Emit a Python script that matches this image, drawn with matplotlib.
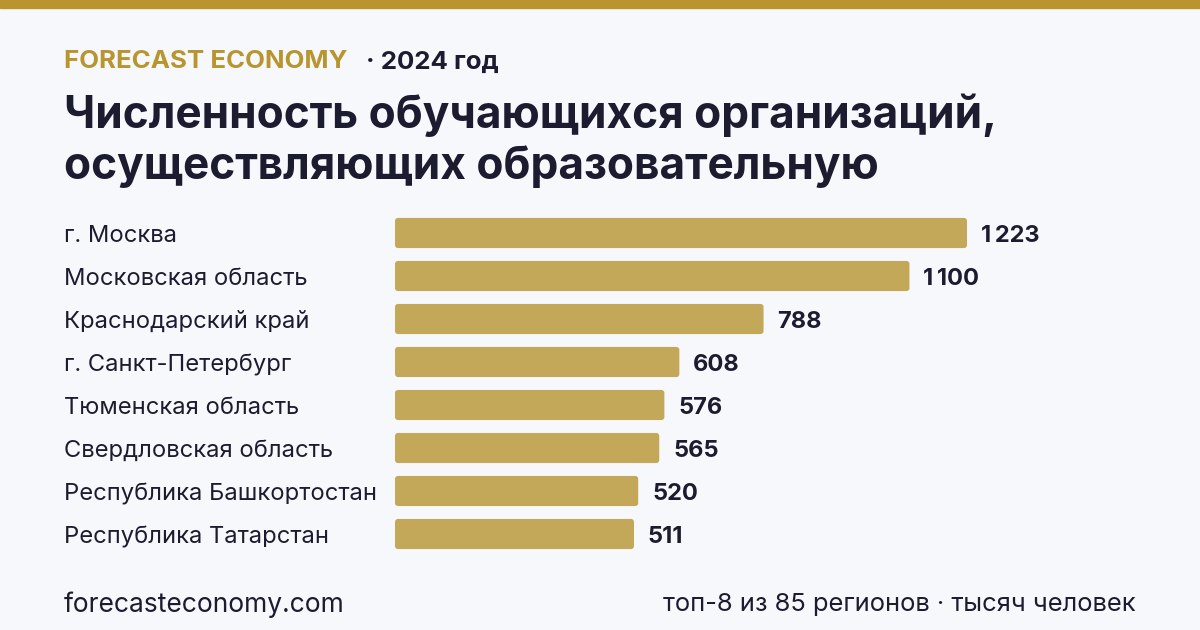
import matplotlib.pyplot as plt
from matplotlib.patches import FancyBboxPatch, Rectangle

plt.rcParams['font.family'] = ['Inter', 'DejaVu Sans']

regions = [
    "г. Москва",
    "Московская область",
    "Краснодарский край",
    "г. Санкт-Петербург",
    "Тюменская область",
    "Свердловская область",
    "Республика Башкортостан",
    "Республика Татарстан",
]
values = [1223, 1100, 788, 608, 576, 565, 520, 511]
value_labels = ["1\u2009223", "1\u2009100", "788", "608", "576", "565", "520", "511"]

brand = "FORECAST ECONOMY"
year = "· 2024 год"
title = "Численность обучающихся организаций,\nосуществляющих образовательную"
source = "forecasteconomy.com"
note = "топ-8 из 85 регионов · тысяч человек"

BG = "#F7F8FC"
GOLD = "#B8952F"
BAR = "#C4A85A"
DARK = "#1C1C30"

W, H = 1200, 630
fig = plt.figure(figsize=(W / 100, H / 100), dpi=100, facecolor=BG)

# top stripe
fig.patches.append(Rectangle((0, 1 - 8 / H), 1, 8 / H, transform=fig.transFigure,
                             color=GOLD, zorder=0))


def px(x, y):
    return x / W, 1 - y / H


fig.text(*px(64, 62), brand, color=GOLD, fontsize=18.6, fontweight="bold", va="center")
fig.text(*px(366, 62), year, color=DARK, fontsize=18.6, fontweight="bold", va="center")
fig.text(*px(64, 141), title, color=DARK, fontsize=31.8, fontweight="bold",
         va="center", linespacing=1.25)

# bar area: x 395..1100 px, rows centred 233..534 px
ax_left, ax_right = 395, 1100
ax_top, ax_bot = 211.5, 555.5
ax = fig.add_axes([ax_left / W, 1 - ax_bot / H, (ax_right - ax_left) / W,
                   (ax_bot - ax_top) / H])
ax.set_facecolor("none")
xmax = (ax_right - ax_left) / (572 / 1223)
ax.set_xlim(0, xmax)
ax.set_ylim(len(values) - 0.5, -0.5)
ax.axis("off")

bh = 0.7
ux = xmax / (ax_right - ax_left)          # data units per px (x)
uy = len(values) / (ax_bot - ax_top)      # data units per px (y)
for i, (v, lab) in enumerate(zip(values, value_labels)):
    ax.add_patch(FancyBboxPatch((0, i - bh / 2), v, bh,
                                boxstyle="round,pad=0,rounding_size=%f" % (3 * ux),
                                mutation_aspect=uy / ux, facecolor=BAR,
                                edgecolor="none"))
    ax.text(v + 14 * ux, i + 3 * uy, lab, color=DARK, fontsize=17, fontweight="bold",
            va="center", ha="left")
    fig.text(64 / W, 1 - (ax_top + (i + 0.5) / uy + 3) / H, regions[i], color=DARK,
             fontsize=17.1, va="center")

fig.text(*px(64, 605), source, color=DARK, fontsize=19, va="center")
fig.text(*px(1136, 605), note, color=DARK, fontsize=18.4, va="center", ha="right")

fig.savefig("out.png", dpi=100, facecolor=BG)
